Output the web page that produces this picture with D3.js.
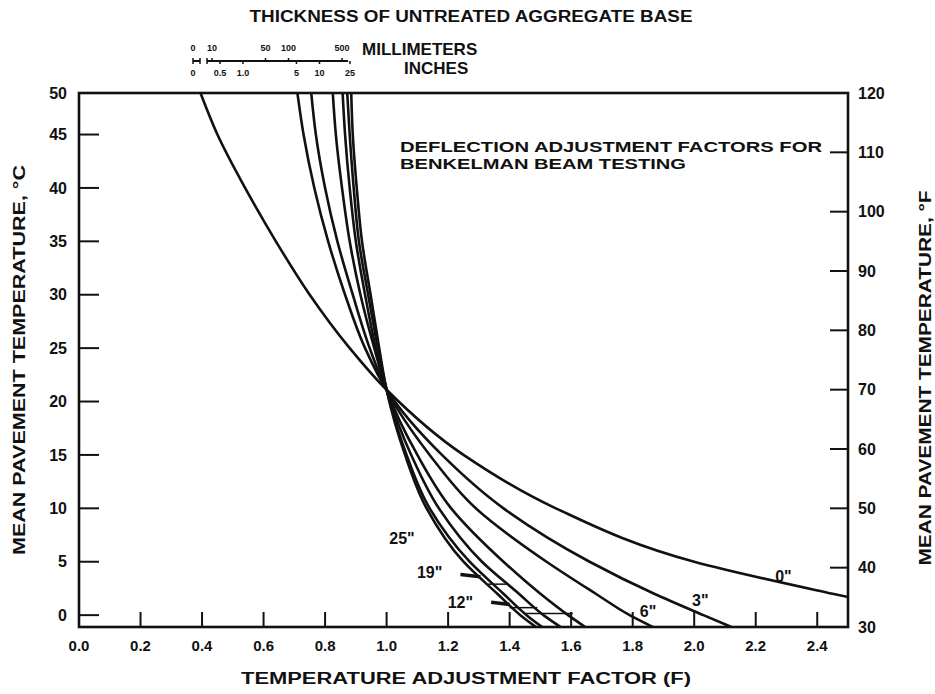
<!DOCTYPE html>
<html>
<head>
<meta charset="utf-8">
<script src="https://d3js.org/d3.v7.min.js"></script>
<style>
  body { margin: 0; background: #fff; }
  svg text { font-family: "Liberation Sans", Arial, sans-serif; font-weight: bold; fill: #111; }
</style>
</head>
<body>
<svg id="chart" width="935" height="694"></svg>
<script>
// Temperatures (deg C) at which each curve was read
var tempC = [48.9, 45, 40, 35, 30, 25, 21.1, 15, 10, 5, 2, 0, -1.1];

// Temperature adjustment factor F for each base thickness
var f0in  = [0.395, 0.45, 0.54, 0.64, 0.75, 0.88, 1.0, 1.25, 1.55, 2.0, 2.45, 2.78, 2.97];
var f3in  = [0.71, 0.73, 0.765, 0.81, 0.865, 0.93, 1.0, 1.18, 1.38, 1.66, 1.87, 2.03, 2.12];
var f6in  = [0.755, 0.77, 0.80, 0.84, 0.89, 0.945, 1.0, 1.14, 1.29, 1.52, 1.68, 1.79, 1.865];
var f9in  = [0.825, 0.835, 0.855, 0.88, 0.915, 0.96, 1.0, 1.1, 1.21, 1.38, 1.50, 1.59, 1.645];
var f12in = [0.857, 0.865, 0.88, 0.90, 0.93, 0.965, 1.0, 1.08, 1.17, 1.31, 1.43, 1.51, 1.565];
var f19in = [0.872, 0.88, 0.893, 0.91, 0.94, 0.972, 1.0, 1.065, 1.14, 1.27, 1.38, 1.455, 1.505];
var f25in = [0.885, 0.89, 0.903, 0.92, 0.948, 0.976, 1.0, 1.06, 1.13, 1.25, 1.36, 1.435, 1.485];

var curves = [f0in, f3in, f6in, f9in, f12in, f19in, f25in];

// Curve labels and where they sit (F, deg C)
var curveLabels = ['0"', '3"', '6"', '12"', '19"', '25"'];
var labelF = [2.29, 2.02, 1.85, 1.24, 1.14, 1.05];
var labelC = [3.1, 0.9, -0.2, 0.7, 3.5, 6.7];

// Leaders for 19" and 12" (F, deg C)
var leaderThick = [[[1.24, 3.8], [1.305, 3.6]], [[1.34, 1.2], [1.40, 1.0]]];
var leaderThin = [[[1.33, 2.9], [1.39, 2.9]], [[1.40, 0.7], [1.49, 0.7]], [[1.445, 0.15], [1.605, 0.15]]];

// Tick values
var xTicks = [0.0, 0.2, 0.4, 0.6, 0.8, 1.0, 1.2, 1.4, 1.6, 1.8, 2.0, 2.2, 2.4];
var cTicks = [0, 5, 10, 15, 20, 25, 30, 35, 40, 45, 50];
var fTicks = [30, 40, 50, 60, 70, 80, 90, 100, 110, 120];

// Thickness scale bar
var mmLabels = [10, 50, 100, 500];
var inLabels = [0.5, 1.0, 5, 10, 25];

var svg = d3.select('#chart');

var plotLeft = 79, plotRight = 848, plotTop = 93, plotBottom = 627;

var x = d3.scaleLinear().domain([0, 2.5]).range([plotLeft, plotRight]);
// Right axis is deg F 30..120; left axis is the same range in deg C
var yF = d3.scaleLinear().domain([30, 120]).range([plotBottom, plotTop]).clamp(true);
var yC = d3.scaleLinear().domain([(30 - 32) * 5 / 9, (120 - 32) * 5 / 9]).range([plotBottom, plotTop]).clamp(true);

// Clip for curves
svg.append('clipPath').attr('id', 'plotclip')
  .append('rect')
  .attr('x', plotLeft).attr('y', plotTop)
  .attr('width', plotRight - plotLeft).attr('height', plotBottom - plotTop);

// Curves
var line = d3.line()
  .x(function (d) { return x(d[1]); })
  .y(function (d) { return yC(d[0]); })
  .curve(d3.curveMonotoneY);

svg.append('g')
  .attr('clip-path', 'url(#plotclip)')
  .selectAll('path')
  .data(curves).enter()
  .append('path')
  .attr('fill', 'none')
  .attr('stroke', '#111')
  .attr('stroke-width', 2.6)
  .attr('d', function (c) {
    return line(tempC.map(function (t, i) { return [t, c[i]]; }));
  });

// Frame
svg.append('rect')
  .attr('x', plotLeft).attr('y', plotTop)
  .attr('width', plotRight - plotLeft).attr('height', plotBottom - plotTop)
  .attr('fill', 'none')
  .attr('stroke', '#111')
  .attr('stroke-width', 2.6);

// Bottom ticks (pointing up) and labels
svg.append('g').selectAll('line')
  .data(xTicks.filter(function (v) { return v > 0; })).enter()
  .append('line')
  .attr('x1', function (d) { return x(d); }).attr('x2', function (d) { return x(d); })
  .attr('y1', plotBottom).attr('y2', plotBottom - 15)
  .attr('stroke', '#111').attr('stroke-width', 2);

svg.append('g').selectAll('text')
  .data(xTicks).enter()
  .append('text')
  .attr('x', function (d) { return x(d); })
  .attr('y', plotBottom + 24)
  .attr('text-anchor', 'middle')
  .attr('font-size', 15)
  .text(function (d) { return d.toFixed(1); });

// Left ticks (deg C)
svg.append('g').selectAll('line')
  .data(cTicks.filter(function (v) { return v < 48; })).enter()
  .append('line')
  .attr('x1', plotLeft).attr('x2', plotLeft + 20)
  .attr('y1', function (d) { return yC(d); }).attr('y2', function (d) { return yC(d); })
  .attr('stroke', '#111').attr('stroke-width', 2);

svg.append('g').selectAll('text')
  .data(cTicks).enter()
  .append('text')
  .attr('x', plotLeft - 12)
  .attr('y', function (d) { return yC(d); })
  .attr('dy', '.36em')
  .attr('text-anchor', 'end')
  .attr('font-size', 16)
  .text(function (d) { return d; });

// Right ticks (deg F)
svg.append('g').selectAll('line')
  .data(fTicks.filter(function (v) { return v > 30 && v < 120; })).enter()
  .append('line')
  .attr('x1', plotRight - 18).attr('x2', plotRight)
  .attr('y1', function (d) { return yF(d); }).attr('y2', function (d) { return yF(d); })
  .attr('stroke', '#111').attr('stroke-width', 2);

svg.append('g').selectAll('text')
  .data(fTicks).enter()
  .append('text')
  .attr('x', plotRight + 10)
  .attr('y', function (d) { return yF(d); })
  .attr('dy', '.36em')
  .attr('text-anchor', 'start')
  .attr('font-size', 16)
  .text(function (d) { return d; });

// Curve labels
svg.append('g').selectAll('text')
  .data(curveLabels).enter()
  .append('text')
  .attr('x', function (d, i) { return x(labelF[i]); })
  .attr('y', function (d, i) { return yC(labelC[i]); })
  .attr('text-anchor', 'middle')
  .attr('font-size', 16)
  .text(function (d) { return d; });

// Leaders
svg.append('g').selectAll('line')
  .data(leaderThick).enter()
  .append('line')
  .attr('x1', function (d) { return x(d[0][0]); }).attr('y1', function (d) { return yC(d[0][1]); })
  .attr('x2', function (d) { return x(d[1][0]); }).attr('y2', function (d) { return yC(d[1][1]); })
  .attr('stroke', '#111').attr('stroke-width', 3.5);

svg.append('g').selectAll('line')
  .data(leaderThin).enter()
  .append('line')
  .attr('x1', function (d) { return x(d[0][0]); }).attr('y1', function (d) { return yC(d[0][1]); })
  .attr('x2', function (d) { return x(d[1][0]); }).attr('y2', function (d) { return yC(d[1][1]); })
  .attr('stroke', '#111').attr('stroke-width', 1.5);

// Chart note inside plot
svg.append('text')
  .attr('x', 400).attr('y', 152)
  .attr('font-size', 15)
  .attr('textLength', 422).attr('lengthAdjust', 'spacingAndGlyphs')
  .text('DEFLECTION ADJUSTMENT FACTORS FOR');
svg.append('text')
  .attr('x', 400).attr('y', 169)
  .attr('font-size', 15)
  .attr('textLength', 286).attr('lengthAdjust', 'spacingAndGlyphs')
  .text('BENKELMAN BEAM TESTING');

// Axis titles
svg.append('text')
  .attr('x', 466).attr('y', 684)
  .attr('text-anchor', 'middle')
  .attr('font-size', 16)
  .attr('textLength', 450).attr('lengthAdjust', 'spacingAndGlyphs')
  .text('TEMPERATURE ADJUSTMENT FACTOR (F)');

svg.append('text')
  .attr('transform', 'translate(25,' + 360 + ') rotate(-90)')
  .attr('text-anchor', 'middle')
  .attr('font-size', 16)
  .attr('textLength', 390).attr('lengthAdjust', 'spacingAndGlyphs')
  .text('MEAN PAVEMENT TEMPERATURE, °C');

svg.append('text')
  .attr('transform', 'translate(931,' + 378 + ') rotate(-90)')
  .attr('text-anchor', 'middle')
  .attr('font-size', 16)
  .attr('textLength', 375).attr('lengthAdjust', 'spacingAndGlyphs')
  .text('MEAN PAVEMENT TEMPERATURE, °F');

// Top title
svg.append('text')
  .attr('x', 471).attr('y', 22)
  .attr('text-anchor', 'middle')
  .attr('font-size', 16)
  .attr('textLength', 443).attr('lengthAdjust', 'spacingAndGlyphs')
  .text('THICKNESS OF UNTREATED AGGREGATE BASE');

// Thickness scale bar (log scale in mm)
var sb = d3.scaleLog().domain([10, 500]).range([212, 342]);
var barY = 61;
var bar = svg.append('g');
bar.append('line').attr('x1', 193).attr('x2', 200).attr('y1', barY).attr('y2', barY)
  .attr('stroke', '#111').attr('stroke-width', 2);
bar.append('line').attr('x1', 193).attr('x2', 193).attr('y1', barY - 3).attr('y2', barY + 3)
  .attr('stroke', '#111').attr('stroke-width', 1.5);
bar.append('line').attr('x1', 200).attr('x2', 200).attr('y1', barY - 3).attr('y2', barY + 3)
  .attr('stroke', '#111').attr('stroke-width', 1.5);
bar.append('line').attr('x1', 207).attr('x2', sb(600)).attr('y1', barY).attr('y2', barY)
  .attr('stroke', '#111').attr('stroke-width', 2);
bar.append('line').attr('x1', 207).attr('x2', 207).attr('y1', barY - 3).attr('y2', barY + 3)
  .attr('stroke', '#111').attr('stroke-width', 1.5);

bar.selectAll('.mmtick')
  .data(mmLabels).enter()
  .append('line')
  .attr('x1', function (d) { return sb(d); }).attr('x2', function (d) { return sb(d); })
  .attr('y1', barY - 3).attr('y2', barY)
  .attr('stroke', '#111').attr('stroke-width', 1.5);
bar.selectAll('.intick')
  .data(inLabels).enter()
  .append('line')
  .attr('x1', function (d) { return sb(d * 25.4); }).attr('x2', function (d) { return sb(d * 25.4); })
  .attr('y1', barY).attr('y2', barY + 3)
  .attr('stroke', '#111').attr('stroke-width', 1.5);

bar.selectAll('.mmlab')
  .data([0].concat(mmLabels)).enter()
  .append('text')
  .attr('x', function (d) { return d === 0 ? 193 : sb(d); })
  .attr('y', 51)
  .attr('text-anchor', 'middle')
  .attr('font-size', 9)
  .text(function (d) { return d; });
bar.selectAll('.inlab')
  .data([0].concat(inLabels)).enter()
  .append('text')
  .attr('x', function (d) { return d === 0 ? 193 : sb(d * 25.4); })
  .attr('y', 76)
  .attr('text-anchor', 'middle')
  .attr('font-size', 9)
  .text(function (d) { return d === 0 ? '0' : (d < 5 ? d.toFixed(1) : d); });

svg.append('text').attr('x', 362).attr('y', 55)
  .attr('font-size', 17).text('MILLIMETERS');
svg.append('text').attr('x', 404).attr('y', 74)
  .attr('font-size', 17).text('INCHES');
</script>
</body>
</html>
